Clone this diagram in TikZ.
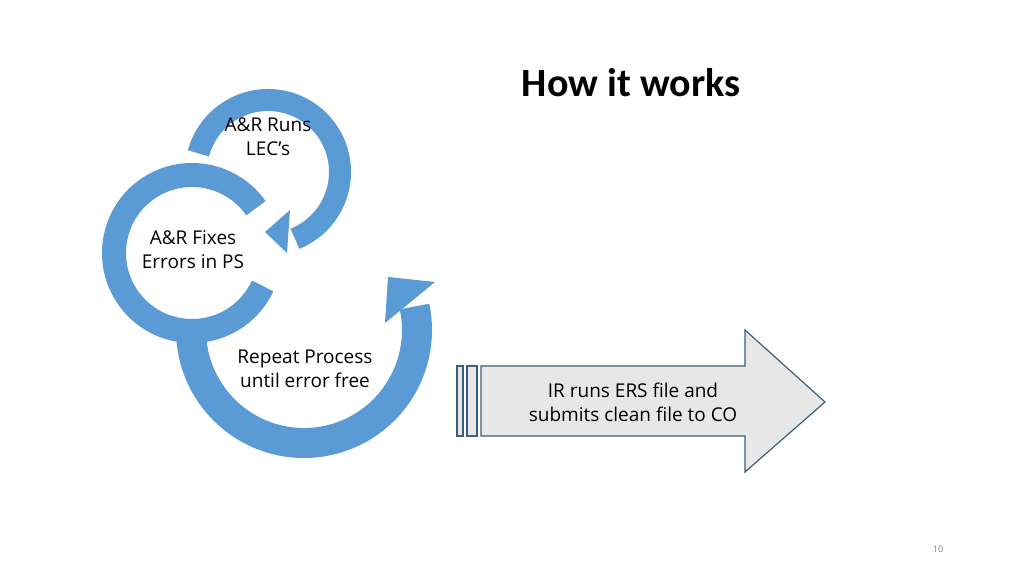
\documentclass[tikz,border=0pt]{standalone}
\usepackage{fontspec}
\setmainfont{Open Sans}
\newfontfamily\titlefont{Carlito}
\begin{document}
\begin{tikzpicture}[x=1pt,y=1pt,
  ring/.style={draw=ringblue,line width=#1},
  head/.style={fill=ringblue,draw=none},
  lbl/.style={align=center,font=\fontsize{19}{24}\selectfont,text=black},
  box/.style={draw=boxline,fill=boxfill,line width=1.2pt}]
\definecolor{ringblue}{HTML}{5B9BD5}
\definecolor{boxline}{HTML}{3B5E7A}
\definecolor{boxfill}{HTML}{E7E7E7}
\useasboundingbox (0,0) rectangle (1024,576);
\fill[white] (0,0) rectangle (1024,576);
% title
\node[font=\titlefont\bfseries\fontsize{40}{46}\selectfont] (title) at (631,493) {How it works};
% middle ring
\draw[ring=24pt] (192,323) ++(35:78) arc[start angle=35,end angle=335,radius=78];
% top ring
\draw[ring=22pt] (268,404) ++(165:72) arc[start angle=165,end angle=-68,radius=72];
\fill[head] (290,366) -- (265,344) -- (287,323) -- cycle;
% bottom ring
\draw[ring=30pt] (304,246) ++(180:113) arc[start angle=180,end angle=372,radius=113];
\fill[head] (388,299) -- (435,294) -- (385,253) -- cycle;
% labels
\node[lbl] (t1) at (268,439) {A\&R Runs\\LEC's};
\node[lbl] (t2) at (193,326) {A\&R Fixes\\Errors in PS};
\node[lbl] (t3) at (305,207) {Repeat Process\\until error free};
% right arrow
\draw[box] (457,140) rectangle (463,210);
\draw[box] (467,140) rectangle (477,210);
\draw[box] (481,140) -- (745,140) -- (745,104) -- (825,174) -- (745,246) -- (745,210) -- (481,210) -- cycle;
\node[lbl] (t4) at (633,174) {IR runs ERS file and\\submits clean file to CO};
\node[font=\fontsize{9}{10}\selectfont,text=gray] (pg) at (938,27) {10};
\end{tikzpicture}
\end{document}
